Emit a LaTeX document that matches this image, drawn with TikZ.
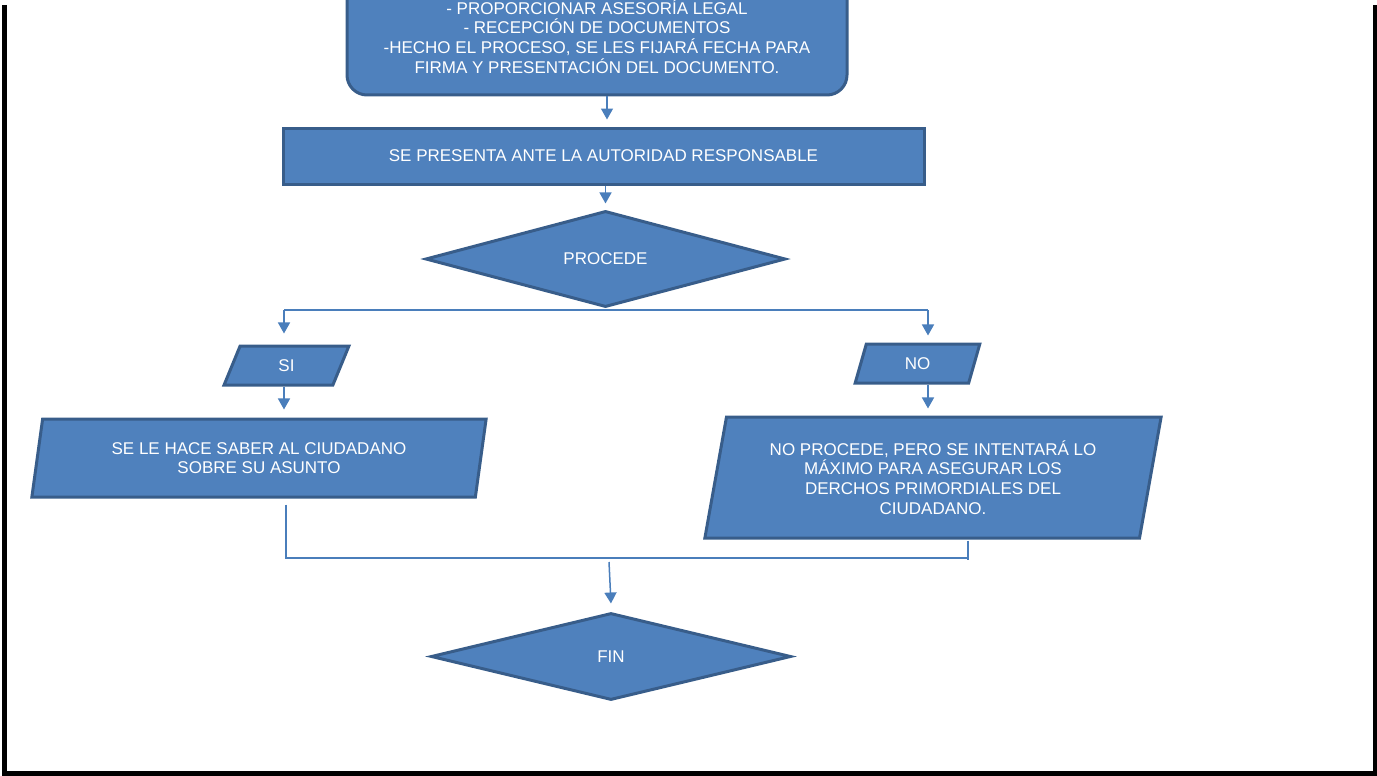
\documentclass[tikz,border=0pt]{standalone}
\usepackage{fontspec}
\setmainfont{Liberation Sans}
\usetikzlibrary{shapes.geometric,arrows.meta}

\definecolor{boxfill}{HTML}{4F81BD}
\definecolor{boxline}{HTML}{385D8A}
\definecolor{conline}{HTML}{4A7EBB}

\tikzset{
  blk/.style={draw=boxline, fill=boxfill, line width=3pt, text=white, align=center,
    inner sep=0pt, font=\fontsize{17}{19.7}\selectfont},
  para/.style={blk, trapezium, trapezium left angle=77, trapezium right angle=103,
    trapezium stretches=true},
  dia/.style={blk, diamond},
  con/.style={draw=conline, line width=1.5pt},
  arr/.style={con, -{Triangle[length=11pt,width=12pt]}},
}

\begin{document}
\begin{tikzpicture}[x=1pt,y=-1pt]
\useasboundingbox (0,0) rectangle (1377,776);
\clip (0,0) rectangle (1377,776);
\draw[line width=4.5pt] (4.5,5) -- (4.5,773.5) -- (1375,773.5) -- (1375,5);

\node[blk, rounded corners=20pt, minimum width=500pt, minimum height=117pt] (asesoria) at (597,36.5)
  {- PROPORCIONAR ASESORÍA LEGAL\\- RECEPCIÓN DE DOCUMENTOS\\-HECHO EL PROCESO, SE LES FIJARÁ FECHA PARA\\FIRMA Y PRESENTACIÓN DEL DOCUMENTO.};
\node[blk, minimum width=641pt, minimum height=56pt] (presenta) at (603.5,156) {SE PRESENTA ANTE LA AUTORIDAD RESPONSABLE};
\node[dia, minimum width=360pt, minimum height=86pt] (procede) at (605.5,259) {PROCEDE};
\node[para, minimum width=125pt, minimum height=39pt] (si) at (286.5,365.5) {\raisebox{-2pt}{SI}};
\node[para, minimum width=125pt, minimum height=39pt] (no) at (917.5,363.5) {\raisebox{-3pt}{NO}};
\node[para, minimum width=456pt, minimum height=78pt] (saber) at (259,458) {SE LE HACE SABER AL CIUDADANO\\SOBRE SU ASUNTO};
\node[para, minimum width=458pt, minimum height=121pt] (intentara) at (933,477.5)
  {NO PROCEDE, PERO SE INTENTARÁ LO\\MÁXIMO PARA ASEGURAR LOS\\DERCHOS PRIMORDIALES DEL\\CIUDADANO.};
\node[dia, minimum width=360pt, minimum height=87pt] (fin) at (611,656.5) {FIN};

\coordinate (splitL) at (284,310);
\coordinate (splitR) at (928,310);
\coordinate (joinL) at (286,558);
\coordinate (joinR) at (968,558);
\coordinate (joinM) at (609,562);

\draw[arr] ([xshift=3.5pt]presenta.north |- asesoria.south) -- ([xshift=3.5pt,yshift=7pt]presenta.north);
\draw[arr] (procede.north |- presenta.south) -- ([yshift=6pt]procede.north);
\draw[con] (splitL) -- (splitR);
\draw[arr] (splitL) -- ([yshift=11pt]splitL |- si.north);
\draw[arr] (splitR) -- ([yshift=7pt]splitR |- no.north);
\draw[arr] (splitL |- si.south) -- ([yshift=8pt]splitL |- saber.north);
\draw[arr] (splitR |- no.south) -- ([yshift=7pt]splitR |- intentara.north);
\draw[con] ([yshift=-6pt]joinL |- saber.south) -- (joinL) -- (joinR);
\draw[con] ([yshift=-1pt]joinR |- intentara.south) -- ([yshift=-2pt]joinR);
\draw[arr] (joinM) -- ([yshift=8pt]fin.north);
\end{tikzpicture}
\end{document}
